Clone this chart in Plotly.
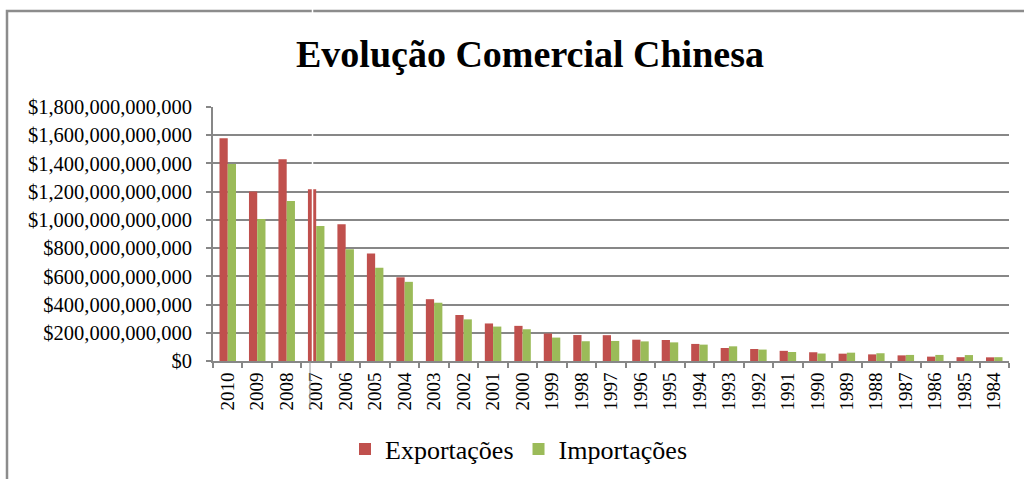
import plotly.graph_objects as go

# Chinese foreign trade by year (US$)
years = ["2010", "2009", "2008", "2007", "2006", "2005", "2004", "2003", "2002",
         "2001", "2000", "1999", "1998", "1997", "1996", "1995", "1994", "1993",
         "1992", "1991", "1990", "1989", "1988", "1987", "1986", "1985", "1984"]

exportacoes = [1578e9, 1202e9, 1430e9, 1218e9, 969e9, 762e9, 593e9, 438e9, 326e9,
               266e9, 249e9, 195e9, 184e9, 183e9, 151e9, 149e9, 121e9, 92e9,
               85e9, 72e9, 62e9, 52e9, 47e9, 40e9, 31e9, 27e9, 26e9]

importacoes = [1396e9, 1006e9, 1133e9, 956e9, 792e9, 660e9, 561e9, 413e9, 295e9,
               244e9, 225e9, 166e9, 140e9, 142e9, 139e9, 132e9, 116e9, 104e9,
               81e9, 64e9, 53e9, 59e9, 55e9, 43e9, 43e9, 42e9, 27e9]

y_ticks = [0, 200e9, 400e9, 600e9, 800e9, 1000e9, 1200e9, 1400e9, 1600e9, 1800e9]
y_tick_labels = [f"${v:,.0f}" for v in y_ticks]

W, H = 1024, 479
ML, MR, MT, MB = 213, 15, 107, 118
plot_w = W - ML - MR
plot_h = H - MT - MB


def px_x(x):
    return (x - ML) / plot_w


def px_y(y):
    return (H - MB - y) / plot_h


serif = "Liberation Serif"

fig = go.Figure()
fig.add_trace(go.Bar(x=years, y=exportacoes, name="Exportações",
                     marker=dict(color="#C0504D", line=dict(width=0))))
fig.add_trace(go.Bar(x=years, y=importacoes, name="Importações",
                     marker=dict(color="#9BBB59", line=dict(width=0))))

axis_gray = "#878787"

fig.update_layout(
    width=W, height=H,
    margin=dict(l=ML, r=MR, t=MT, b=MB),
    paper_bgcolor="white", plot_bgcolor="white",
    barmode="group", bargap=0.44, bargroupgap=0.0,
    font=dict(family=serif, color="black"),
    title=dict(text="<b>Evolução Comercial Chinesa</b>",
               font=dict(family=serif, size=38, color="black"),
               x=530 / W, xref="container", xanchor="center",
               y=1 - 54 / H, yref="container", yanchor="middle"),
    legend=dict(orientation="h", x=519 / W, xref="container", xanchor="center",
                y=1 - 449 / H, yref="container", yanchor="middle",
                font=dict(family=serif, size=26, color="black"),
                itemwidth=30, bgcolor="rgba(0,0,0,0)"),
    showlegend=True,
)

fig.update_xaxes(
    type="category", tickangle=-90,
    tickfont=dict(family=serif, size=19, color="black"),
    showline=True, linecolor=axis_gray, linewidth=2,
    ticks="outside", tickson="boundaries", ticklen=5, tickcolor=axis_gray, tickwidth=2,
    showgrid=False, ticklabelstandoff=2,
)

fig.update_yaxes(
    range=[0, 1800e9], tickmode="array", tickvals=y_ticks, ticktext=y_tick_labels,
    tickfont=dict(family=serif, size=20.5, color="black"),
    showline=True, linecolor=axis_gray, linewidth=2,
    ticks="outside", ticklen=5, tickcolor=axis_gray, tickwidth=2,
    showgrid=True, gridcolor=axis_gray, gridwidth=1.5,
    zeroline=False, ticklabelstandoff=10,
)

# Outer chart frame (runs past the right and bottom edges of the page)
fig.add_shape(type="rect", xref="paper", yref="paper",
              x0=px_x(7), x1=px_x(1060), y0=px_y(520), y1=px_y(11),
              line=dict(color="#8C8C8C", width=2.5), fillcolor="rgba(0,0,0,0)",
              layer="above")

# Thin seam crossing the page near the 2007 bar
fig.add_shape(type="line", xref="paper", yref="paper",
              x0=px_x(312.5), x1=px_x(312.5), y0=px_y(361), y1=px_y(0),
              line=dict(color="white", width=1.5), layer="above")
fig.add_shape(type="line", xref="paper", yref="paper",
              x0=px_x(310), x1=px_x(310), y0=px_y(408), y1=px_y(362),
              line=dict(color="#9A9A9A", width=1), layer="above")

fig.write_html("out.html")
